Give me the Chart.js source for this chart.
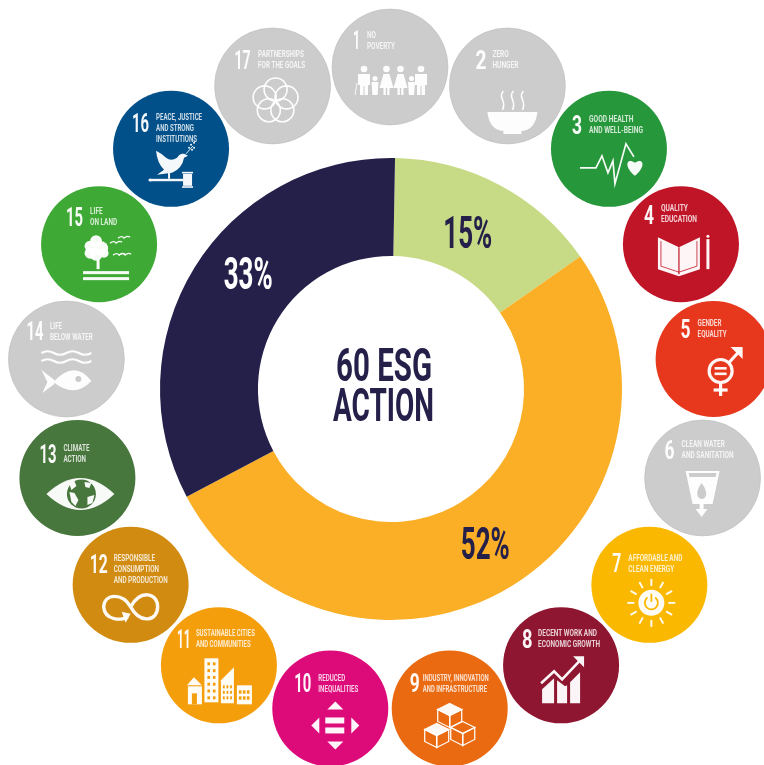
<!DOCTYPE html>
<html>
<head>
<meta charset="utf-8">
<title>60 ESG Action</title>
<script src="https://cdn.jsdelivr.net/npm/chart.js@4"></script>
<style>
html, body { margin: 0; padding: 0; background: #fff; }
canvas { display: block; }
</style>
</head>
<body>
<canvas id="chart" width="764" height="765"></canvas>
<script>
// Chart data
const segmentNames = ['Group A', 'Group B', 'Group C'];
const segmentValues = [15, 52, 33];
const centreLines = ['60 ESG', 'ACTION'];

// SDG goals around the ring
const goalNumbers = [1, 2, 3, 4, 5, 6, 7, 8, 9, 10, 11, 12, 13, 14, 15, 16, 17];
const goalTitles = [
  ['NO', 'POVERTY'], ['ZERO', 'HUNGER'], ['GOOD HEALTH', 'AND WELL-BEING'],
  ['QUALITY', 'EDUCATION'], ['GENDER', 'EQUALITY'], ['CLEAN WATER', 'AND SANITATION'],
  ['AFFORDABLE AND', 'CLEAN ENERGY'], ['DECENT WORK AND', 'ECONOMIC GROWTH'],
  ['INDUSTRY, INNOVATION', 'AND INFRASTRUCTURE'], ['REDUCED', 'INEQUALITIES'],
  ['SUSTAINABLE CITIES', 'AND COMMUNITIES'], ['RESPONSIBLE', 'CONSUMPTION', 'AND PRODUCTION'],
  ['CLIMATE', 'ACTION'], ['LIFE', 'BELOW WATER'], ['LIFE', 'ON LAND'],
  ['PEACE, JUSTICE', 'AND STRONG', 'INSTITUTIONS'], ['PARTNERSHIPS', 'FOR THE GOALS']
];

// Styles
const segmentColors = ['#c7da85', '#faaf26', '#252049'];
const labelColors = ['#252049', '#252049', '#ffffff'];
const GREY = '#cccccc';
const goalColors = [GREY, GREY, '#26973a', '#c01527', '#e7381e', GREY, '#fbb800', '#8f1630',
  '#ea6a12', '#dd0a7a', '#f59e0c', '#d08b10', '#48773e', GREY, '#3eaa35', '#02508a', GREY];
// text layout inside a badge: number x, number mid y, number width, title x, first line mid y, title width
const badgeText = [
  [-37, -27, 7, -23, -32, 28], [-32, -26, 11, -15, -32, 26], [-37, -24, 10, -20, -30, 54],
  [-37, -29.5, 10, -20, -36, 36], [-33, -30, 10, -16, -36, 29], [-38, -28, 10, -21, -34, 52],
  [-37, -22, 9, -21, -27, 54], [-39, -26, 10.5, -23, -32, 62], [-40, -25.5, 10, -27, -31, 66],
  [-36, -25, 17, -12, -31, 40], [-42, -26, 13.5, -23, -32, 59], [-41, -21, 18, -17, -27, 54],
  [-38, -24, 17, -14, -30, 26], [-40, -28, 17, -16.5, -33, 43], [-33, -27.5, 17, -9, -33.5, 27],
  [-39, -26, 17, -15, -31.5, 46], [-38, -26, 16, -14.5, -32, 47]
];
// percentage labels sit a bit off the slice middle
const labelShift = [-2, 0, 7.5];
const labelRadiusShift = [-7, -1, 2];
const WHITE = 'rgba(255,255,255,0.96)';
const RING_X = 390, RING_Y = 389, RING_R = 325, BADGE_R = 58;

// text squeezed to a given width, the original uses a condensed face
function fitText(ctx, text, x, midY, width, size, color, weight) {
  ctx.save();
  ctx.font = (weight || 700) + ' ' + size + 'px Roboto';
  ctx.textBaseline = 'alphabetic';
  ctx.textAlign = 'left';
  ctx.fillStyle = color;
  ctx.translate(x, midY + size * 0.355);
  ctx.scale(width / ctx.measureText(text).width, 1);
  ctx.fillText(text, 0, 0);
  ctx.restore();
}

function path(ctx, pts, close) {
  ctx.beginPath();
  pts.forEach((p, i) => i ? ctx.lineTo(p[0], p[1]) : ctx.moveTo(p[0], p[1]));
  if (close) ctx.closePath();
}
function poly(ctx, pts) { path(ctx, pts, true); ctx.fill(); }
function stroke(ctx, pts, w) { ctx.lineWidth = w; path(ctx, pts); ctx.stroke(); }
function disc(ctx, x, y, r) { ctx.beginPath(); ctx.arc(x, y, r, 0, Math.PI * 2); ctx.fill(); }
function ring(ctx, x, y, r, w) { ctx.lineWidth = w; ctx.beginPath(); ctx.arc(x, y, r, 0, Math.PI * 2); ctx.stroke(); }

// One small pictogram per goal, drawn around the badge centre
const icons = {
  1(ctx) {
    // two women in dresses, two men, two children
    [-26, 31].forEach(x => {
      disc(ctx, x, 2, 3.3);
      poly(ctx, [[x - 6, 7], [x + 6, 7], [x + 6, 18], [x + 4, 18], [x + 4, 28], [x + 0.5, 28], [x + 0.5, 19], [x - 0.5, 19], [x - 0.5, 28], [x - 4, 28], [x - 4, 18], [x - 6, 18]]);
    });
    [-3.5, 10.5].forEach(x => {
      disc(ctx, x, 2, 3.3);
      poly(ctx, [[x - 3, 7], [x + 3, 7], [x + 7, 21], [x + 3, 21], [x + 3, 28], [x + 0.7, 28], [x + 0.7, 21], [x - 0.7, 21], [x - 0.7, 28], [x - 3, 28], [x - 3, 21], [x - 7, 21]]);
    });
    [-15, 21.5].forEach(x => {
      disc(ctx, x, 11.5, 2.5);
      poly(ctx, [[x - 3.5, 15], [x + 3.5, 15], [x + 3, 22], [x + 2.6, 28], [x - 2.6, 28], [x - 3, 22]]);
    });
    stroke(ctx, [[-33, 16], [-35, 28]], 0.9);
  },
  2(ctx, bg) {
    ctx.beginPath();
    ctx.moveTo(-20, 26); ctx.lineTo(30, 26);
    ctx.quadraticCurveTo(28, 44, 14, 45); ctx.lineTo(14, 48); ctx.lineTo(-4, 48); ctx.lineTo(-4, 45);
    ctx.quadraticCurveTo(-18, 44, -20, 26); ctx.fill();
    ctx.lineWidth = 1.6;
    [-5, 5, 15].forEach(x => {
      ctx.beginPath(); ctx.moveTo(x + 1, 5); ctx.bezierCurveTo(x - 5, 12, x + 5, 15, x, 24); ctx.stroke();
    });
  },
  3(ctx) {
    ctx.lineJoin = 'miter';
    stroke(ctx, [[-29, 19], [-13, 19], [-7, 7], [-1, 24], [4, 12], [6, 35], [17, -5], [25, 8]], 1.7);
    ctx.beginPath();
    ctx.moveTo(26, 27); ctx.bezierCurveTo(14, 17, 18, 8, 26, 14); ctx.bezierCurveTo(34, 8, 38, 17, 26, 27); ctx.fill();
  },
  4(ctx, bg) {
    poly(ctx, [[-23, -7], [-2, 3], [19, -7], [19, 25], [-2, 32], [-23, 25]]);
    ctx.strokeStyle = bg;
    stroke(ctx, [[-2, 3], [-2, 30]], 1.2);
    stroke(ctx, [[-20, -3], [-20, 22], [-2, 28], [16, 22], [16, -3]], 0.8);
    ctx.strokeStyle = WHITE;
    stroke(ctx, [[27, -5], [27, 25]], 3);
    disc(ctx, 27, -8, 1.5);
  },
  5(ctx, bg) {
    ring(ctx, 7, 12, 11.5, 3.2);
    stroke(ctx, [[15, 4], [26, -8]], 3.2);
    poly(ctx, [[17, -12], [29, -12], [29, 0]]);
    stroke(ctx, [[7, 24], [7, 37]], 3.2);
    stroke(ctx, [[0, 31], [14, 31]], 3.2);
    ctx.fillRect(1, 8, 12, 2.6);
    ctx.fillRect(1, 13.5, 12, 2.6);
  },
  6(ctx, bg) {
    poly(ctx, [[-17, -7], [17, -7], [10, 26], [-10, 26]]);
    ctx.fillStyle = bg;
    poly(ctx, [[-14, -5], [14, -5], [13, -1], [-13, -1]]);
    ctx.beginPath();
    ctx.moveTo(-1, 5); ctx.bezierCurveTo(-9, 16, -4, 21, -1, 21); ctx.bezierCurveTo(3, 21, 7, 16, -1, 5); ctx.fill();
    ctx.fillStyle = WHITE;
    ctx.fillRect(-3, 25, 4, 8);
    poly(ctx, [[-7, 31], [5, 31], [-1, 39]]);
  },
  7(ctx, bg) {
    const x = 2, y = 18;
    disc(ctx, x, y, 13);
    ctx.strokeStyle = bg;
    ctx.lineWidth = 1.8;
    ctx.beginPath(); ctx.arc(x, y, 6.5, -Math.PI * 0.3, Math.PI * 1.3); ctx.stroke();
    stroke(ctx, [[x, y - 9], [x, y - 1]], 1.8);
    ctx.strokeStyle = WHITE;
    for (let i = 0; i < 12; i++) {
      const a = i * Math.PI / 6;
      stroke(ctx, [[x + Math.cos(a) * 17, y + Math.sin(a) * 17], [x + Math.cos(a) * 24, y + Math.sin(a) * 24]], 1.9);
    }
  },
  8(ctx) {
    poly(ctx, [[-19, 24], [-7, 13], [-7, 38], [-19, 38]]);
    poly(ctx, [[-4, 15], [4, 21], [6, 20], [6, 38], [-4, 38]]);
    poly(ctx, [[9, 17], [19, 7], [19, 38], [9, 38]]);
    stroke(ctx, [[-20, 18], [-7, 6], [1, 14], [19, -5]], 2.6);
    poly(ctx, [[12, -9], [23, -9], [23, 2]]);
  },
  9(ctx, bg) {
    const cube = (x, y, s, filled) => {
      const top = [[x, y - s], [x + s, y - s / 2], [x, y], [x - s, y - s / 2]];
      const left = [[x - s, y - s / 2], [x, y], [x, y + s], [x - s, y + s / 2]];
      const right = [[x + s, y - s / 2], [x, y], [x, y + s], [x + s, y + s / 2]];
      ctx.fillStyle = bg; poly(ctx, [[x, y - s], [x + s, y - s / 2], [x + s, y + s / 2], [x, y + s], [x - s, y + s / 2], [x - s, y - s / 2]]);
      ctx.fillStyle = WHITE;
      if (filled === 0) poly(ctx, top);
      if (filled === 1) poly(ctx, left);
      [top, left, right].forEach(f => { ctx.lineWidth = 1.3; path(ctx, f, true); ctx.stroke(); });
    };
    cube(0, 7, 12, 0);
    cube(13, 25, 12, 2);
    cube(-13, 27, 12, 0);
  },
  10(ctx) {
    poly(ctx, [[5, -7], [-3, 1], [13, 1]]);
    poly(ctx, [[5, 41], [-3, 33], [13, 33]]);
    poly(ctx, [[-19, 17], [-11, 9], [-11, 25]]);
    poly(ctx, [[29, 17], [21, 9], [21, 25]]);
    ctx.fillRect(-5, 9, 19, 6);
    ctx.fillRect(-5, 19, 19, 6);
  },
  11(ctx, bg) {
    poly(ctx, [[-32, 20], [-25, 12], [-17, 20]]);
    ctx.fillRect(-31, 21, 14, 18);
    ctx.fillRect(-14.5, -7, 14, 44);
    poly(ctx, [[2, 34], [2, 15], [15, 2], [15, 38], [2, 38]]);
    ctx.fillRect(18, 20, 15, 19);
    ctx.fillStyle = bg;
    ctx.fillRect(-27, 28, 5, 11);
    for (let r = 0; r < 6; r++) for (let c = 0; c < 2; c++) ctx.fillRect(-11.5 + c * 5.5, -3 + r * 6.8, 2.6, 3);
    for (let r = 0; r < 3; r++) for (let c = 0; c < 3; c++) ctx.fillRect(4 + c * 3.6, 20 + r * 5.5, 1.8, 3);
    for (let r = 0; r < 2; r++) for (let c = 0; c < 3; c++) ctx.fillRect(20 + c * 4, 25 + r * 6, 2.6, 3.4);
  },
  12(ctx) {
    ctx.lineWidth = 3.4;
    ctx.beginPath();
    ctx.moveTo(0, 22);
    ctx.bezierCurveTo(10, 4, 27, 8, 27, 22);
    ctx.bezierCurveTo(27, 36, 10, 40, 0, 22);
    ctx.bezierCurveTo(-8, 8, -26, 8, -27, 22);
    ctx.bezierCurveTo(-26, 36, -8, 36, -3, 32);
    ctx.stroke();
    poly(ctx, [[-9, 27], [0, 29], [-5, 38]]);
  },
  13(ctx, bg) {
    ctx.beginPath();
    ctx.moveTo(-31, 16); ctx.quadraticCurveTo(3, -16, 37, 16); ctx.quadraticCurveTo(3, 48, -31, 16); ctx.fill();
    ctx.fillStyle = bg;
    disc(ctx, 4, 16, 14.5);
    ctx.fillStyle = WHITE;
    poly(ctx, [[-8, 6], [-3, 3], [-1, 8], [-6, 12]]);
    poly(ctx, [[-8, 14], [-3, 15], [1, 22], [-2, 28], [-6, 24]]);
    poly(ctx, [[7, 4], [14, 5], [12, 10], [8, 9]]);
    poly(ctx, [[10, 19], [17, 17], [15, 25], [10, 27]]);
  },
  14(ctx, bg) {
    ctx.lineWidth = 2.2;
    [-6, 2].forEach(y => {
      ctx.beginPath(); ctx.moveTo(-25, y);
      for (let i = 0; i < 4; i++) ctx.quadraticCurveTo(-19 + i * 12.5, y + (i % 2 ? 3.5 : -3.5), -12.5 + i * 12.5, y);
      ctx.stroke();
    });
    ctx.beginPath();
    ctx.moveTo(-13, 23); ctx.quadraticCurveTo(8, 0, 25, 22); ctx.quadraticCurveTo(8, 40, -13, 23); ctx.fill();
    poly(ctx, [[-25, 11], [-12, 21], [-12, 25], [-24, 34], [-19, 23]]);
    ctx.fillStyle = bg;
    disc(ctx, 12, 20, 3);
  },
  15(ctx) {
    [[-3, -3, 6], [-9, 2, 5.5], [-9, 9, 5.5], [2, 4, 7], [-3, 10, 6.5], [5, 9, 4.5]].forEach(c => disc(ctx, c[0], c[1], c[2]));
    ctx.fillRect(-2.5, 15, 3, 10);
    ctx.fillRect(-16, 27, 46, 3);
    ctx.fillRect(-16, 33, 46, 3);
    ctx.lineWidth = 1.3;
    [[17, -2], [25, -7], [20, 10], [26, 10]].forEach(b => {
      ctx.beginPath(); ctx.moveTo(b[0] - 6, b[1] + 1); ctx.quadraticCurveTo(b[0] - 2, b[1] - 2, b[0], b[1] + 1);
      ctx.quadraticCurveTo(b[0] + 3, b[1] - 2, b[0] + 6, b[1]); ctx.stroke();
    });
  },
  16(ctx) {
    // dove
    ctx.beginPath();
    ctx.moveTo(-15, 2); ctx.quadraticCurveTo(-9, 5, -5, 9); ctx.quadraticCurveTo(0, 13, 6, 9);
    ctx.quadraticCurveTo(9, 4, 13, 5); ctx.lineTo(17, 7); ctx.lineTo(13, 9);
    ctx.quadraticCurveTo(11, 20, 1, 24); ctx.lineTo(-14, 26); ctx.lineTo(-7, 21);
    ctx.quadraticCurveTo(-14, 14, -15, 2); ctx.fill();
    // olive branch
    stroke(ctx, [[15, 5], [22, -3]], 0.9);
    [[18, -1], [21, 1], [20, -4], [23, -1], [23, -6]].forEach(p => disc(ctx, p[0], p[1], 1));
    // gavel
    ctx.fillRect(-3, 24, 2, 6);
    ctx.fillRect(-21, 30, 33, 2.4);
    disc(ctx, -21, 31.2, 1.6);
    ctx.fillRect(12, 25, 9, 12);
    ctx.fillRect(11, 23, 11, 1.6);
    ctx.fillRect(11, 37.4, 11, 1.6);
  },
  17(ctx) {
    for (let i = 0; i < 5; i++) {
      const a = -Math.PI / 2 + i * 2 * Math.PI / 5;
      ring(ctx, 3 + Math.cos(a) * 11.5, 15 + Math.sin(a) * 11.5, 11.5, 1.6);
    }
  }
};

function drawBadge(ctx, i, cx, cy) {
  const bg = goalColors[i];
  const t = badgeText[i];
  ctx.save();
  ctx.fillStyle = bg;
  ctx.beginPath();
  ctx.arc(cx, cy, BADGE_R, 0, Math.PI * 2);
  ctx.fill();
  if (bg === GREY) { ctx.strokeStyle = '#b8b8b8'; ctx.lineWidth = 0.5; ctx.stroke(); }

  // the badges are soft in the original, it is a scaled raster
  ctx.filter = 'blur(0.35px)';
  fitText(ctx, String(goalNumbers[i]), cx + t[0], cy + t[1], t[2], 25, WHITE, 700);
  ctx.font = '700 8.6px Roboto';
  const widest = Math.max(...goalTitles[i].map(l => ctx.measureText(l).width));
  goalTitles[i].forEach((line, n) => {
    const w = ctx.measureText(line).width * t[5] / widest;
    fitText(ctx, line, cx + t[3], cy + t[4] + n * 11, w, 8.6, 'rgba(255,255,255,0.8)', 700);
    ctx.font = '700 8.6px Roboto';
  });

  ctx.translate(cx, cy);
  ctx.fillStyle = WHITE;
  ctx.strokeStyle = WHITE;
  ctx.lineCap = 'butt';
  icons[goalNumbers[i]](ctx, bg);
  ctx.restore();
}

const overlay = {
  id: 'overlay',
  afterDraw(chart) {
    const ctx = chart.ctx;

    // percentages on the slices
    chart.getDatasetMeta(0).data.forEach((arc, i) => {
      const a = (arc.startAngle + arc.endAngle) / 2 + labelShift[i] * Math.PI / 180;
      const r = (arc.innerRadius + arc.outerRadius) / 2 + labelRadiusShift[i];
      const text = segmentValues[i] + '%';
      fitText(ctx, text, arc.x + Math.cos(a) * r - 24.5, arc.y + Math.sin(a) * r, 49, 45, labelColors[i], 700);
    });

    // title in the hole
    const mid = chart.getDatasetMeta(0).data[0];
    fitText(ctx, centreLines[0], mid.x - 55, mid.y - 24, 96, 46, '#252049', 700);
    fitText(ctx, centreLines[1], mid.x - 58, mid.y + 16, 101, 46, '#252049', 700);

    // goal badges, evenly spaced clockwise from the top
    goalNumbers.forEach((g, i) => {
      const a = i * 2 * Math.PI / goalNumbers.length;
      const r = i === 0 ? RING_R - 3 : RING_R;
      drawBadge(ctx, i, RING_X + Math.sin(a) * r, RING_Y - Math.cos(a) * r);
    });
  }
};

new Chart(document.getElementById('chart'), {
  type: 'doughnut',
  data: {
    labels: segmentNames,
    datasets: [{
      data: segmentValues,
      backgroundColor: segmentColors,
      borderWidth: 0
    }]
  },
  options: {
    responsive: false,
    animation: false,
    rotation: 1,
    cutout: '57.6%',
    layout: { padding: { left: 160, right: 142, top: 158, bottom: 145 } },
    plugins: { legend: { display: false }, tooltip: { enabled: false } }
  },
  plugins: [overlay]
});
</script>
</body>
</html>
